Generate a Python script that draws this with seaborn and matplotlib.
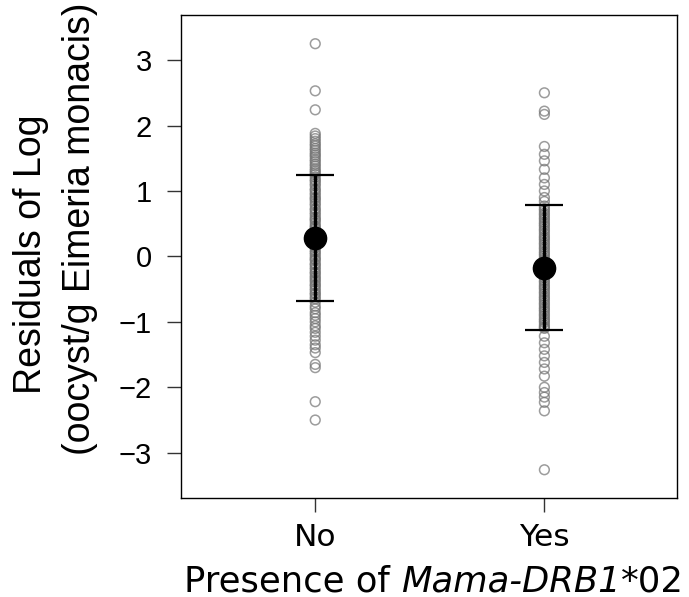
import numpy as np
import pandas as pd
import matplotlib
matplotlib.use("Agg")
import matplotlib.pyplot as plt
import seaborn as sns
from matplotlib.offsetbox import TextArea, HPacker, AnchoredOffsetbox

# residuals, one list per group
groups = ["No", "Yes"]
resid_no = [
    3.25, 2.53, 2.24,
    1.88, 1.84, 1.80, 1.76, 1.72, 1.69, 1.65, 1.62, 1.58, 1.55, 1.52, 1.48, 1.45, 1.41,
    1.38, 1.34, 1.31, 1.28, 1.25,
    1.21, 1.17, 1.15, 1.11, 1.08, 1.03, 1.01, 0.97, 0.94, 0.90, 0.88, 0.85, 0.81, 0.78,
    0.73, 0.71, 0.67, 0.64, 0.60, 0.57, 0.55, 0.51, 0.47, 0.45, 0.42, 0.38, 0.35, 0.31,
    0.29, 0.26, 0.22, 0.19, 0.15, 0.13, 0.09, 0.06, 0.03, -0.01, -0.04, -0.06, -0.11,
    -0.13, -0.17, -0.20, -0.24, -0.26, -0.30, -0.33, -0.36, -0.39, -0.43, -0.45, -0.49,
    -0.52, -0.56, -0.58, -0.62, -0.65,
    -0.70, -0.76, -0.80, -0.86, -0.90, -0.95, -1.00, -1.06, -1.10, -1.16, -1.22, -1.28,
    -1.35, -1.40, -1.47, -1.65, -1.70, -2.22, -2.50,
]
resid_yes = [
    2.50, 2.22, 2.17,
    1.68, 1.56, 1.46, 1.33, 1.20, 1.10, 1.00, 0.90, 0.84,
    0.77, 0.73, 0.70, 0.66, 0.63, 0.59, 0.56, 0.52, 0.49, 0.46, 0.42, 0.39, 0.35, 0.31,
    0.28, 0.25, 0.21, 0.18, 0.14, 0.11, 0.07, 0.04, 0.01, -0.03, -0.06, -0.10, -0.13,
    -0.16, -0.20, -0.23, -0.27, -0.30, -0.33, -0.37, -0.40, -0.44, -0.47, -0.50, -0.54,
    -0.57, -0.61, -0.64, -0.67, -0.71, -0.74, -0.78, -0.81, -0.84, -0.88, -0.91, -0.95,
    -0.98, -1.01, -1.05, -1.08, -1.10,
    -1.22, -1.32, -1.42, -1.52, -1.62, -1.72, -1.83, -2.00, -2.08, -2.15, -2.23,
    -2.36, -3.26,
]
# group mean and +/- 1 SD as shown by the black marker and bars
means = [0.28, -0.17]
sds = [0.96, 0.95]
y_ticks = [-3, -2, -1, 0, 1, 2, 3]

df = pd.DataFrame({
    "group": ["No"] * len(resid_no) + ["Yes"] * len(resid_yes),
    "residual": resid_no + resid_yes,
})

fig = plt.figure(figsize=(6.89, 5.97), dpi=100)
ax = fig.add_axes([0.263, 0.166, 0.72, 0.809])

sns.stripplot(
    data=df, x="group", y="residual", order=groups, jitter=False,
    color="gray", size=7, linewidth=1.1, edgecolor="gray", ax=ax, zorder=2,
)
for coll in ax.collections:
    coll.set_facecolor("none")
    coll.set_edgecolor((0.45, 0.45, 0.45, 0.7))

ax.errorbar(
    range(len(groups)), means, yerr=sds, fmt="o", color="black",
    markersize=16, capsize=14, elinewidth=2.5, capthick=1.6, zorder=5,
)

ax.set_xlim(-0.585, 1.58)
ax.set_ylim(-3.69, 3.69)
ax.set_yticks(y_ticks)
ax.set_yticklabels([str(t).replace("-", "\u2212") for t in y_ticks])
ax.set_xticks(range(len(groups)))
ax.set_xticklabels(groups)
ax.tick_params(axis="both", direction="out", length=10, width=1, color="#333333")
ax.tick_params(axis="y", pad=11, labelsize=21)
ax.tick_params(axis="x", pad=8, labelsize=22.5)
for lab in ax.get_yticklabels():
    lab.set_fontfamily("Liberation Sans")
for lab in ax.get_xticklabels():
    lab.set_fontfamily("DejaVu Sans")

for side in ["left", "right", "top", "bottom"]:
    ax.spines[side].set_visible(True)
    ax.spines[side].set_color("black")
    ax.spines[side].set_linewidth(1)

# two-line y label, lines placed separately as in the reference
ax.set_ylabel("")
ax.set_xlabel("")
fig.text(0.060, 0.5745, "Residuals of Log", rotation=90, rotation_mode="anchor",
         ha="center", va="baseline", family="Liberation Sans", fontsize=27)
fig.text(0.131, 0.6164, "(oocyst/g Eimeria monacis)", rotation=90, rotation_mode="anchor",
         ha="center", va="baseline", family="Liberation Sans", fontsize=27)

# x label with the italic allele name
parts = [
    TextArea("Presence of ", textprops=dict(family="DejaVu Sans", size=25.5)),
    TextArea("Mama-DRB1", textprops=dict(family="DejaVu Sans", size=25.5, style="italic")),
    TextArea("*02", textprops=dict(family="DejaVu Sans", size=25.5)),
]
xlab = AnchoredOffsetbox(
    loc="center", child=HPacker(children=parts, pad=0, sep=0, align="baseline"),
    bbox_to_anchor=(0.63, 0.026), bbox_transform=fig.transFigure,
    frameon=False, pad=0, borderpad=0,
)
fig.add_artist(xlab)

fig.savefig("out.png", dpi=100)
